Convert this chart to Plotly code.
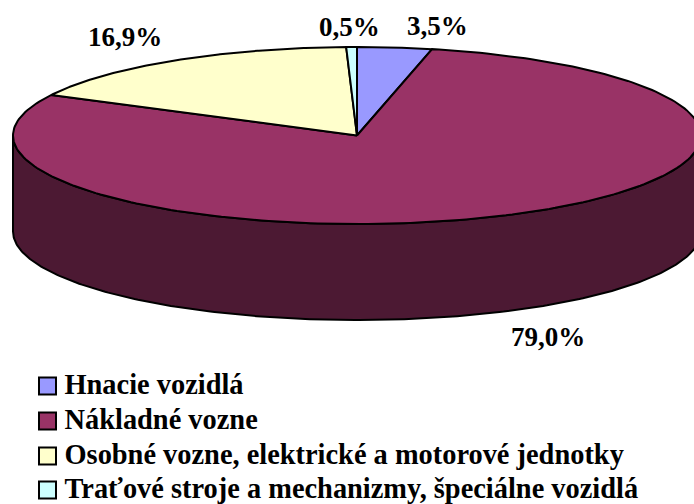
import numpy as np
import plotly.graph_objects as go

categories = ["Hnacie vozidlá", "Nákladné vozne",
              "Osobné vozne, elektrické a motorové jednotky",
              "Traťové stroje a mechanizmy, špeciálne vozidlá"]
shares = [3.5, 79.0, 16.9, 0.5]
share_labels = ["3,5%", "79,0%", "16,9%", "0,5%"]
colors = ["#9999FF", "#993366", "#FFFFCC", "#CCFFFF"]
wall_color = "#4C1933"
label_xy = [(437.5, 26), (547.5, 337), (125, 37), (349, 27)]
legend_rows = [386, 421, 456, 490]

W, H = 694, 504
CX, CY, RX, RY, DEPTH = 357, 135.5, 344, 88.5, 96
LEG_X = 47.5
LEG_TEXT_X = 64.5
FONT = "Liberation Serif"
INK = "#000000"


def rim(a0, a1, drop=0.0, n=240):
    """Ellipse rim points; angle in radians, clockwise from 12 o'clock."""
    t = np.linspace(a0, a1, n)
    return CX + RX * np.sin(t), CY - RY * np.cos(t) + drop


fig = go.Figure()

# Side wall: the front half of the pie, top rim then the lower rim reversed
xt, yt = rim(np.pi / 2, 3 * np.pi / 2)
xb, yb = rim(3 * np.pi / 2, np.pi / 2, DEPTH)
fig.add_trace(go.Scatter(
    x=np.r_[xt, xb, xt[0]], y=np.r_[yt, yb, yt[0]], mode="lines", fill="toself",
    fillcolor=wall_color, line=dict(color=INK, width=2), showlegend=False, hoverinfo="skip"))

total = sum(shares)
edges = np.r_[0, np.cumsum(shares)] / total * 2 * np.pi
for cat, col, a0, a1 in zip(categories, colors, edges[:-1], edges[1:]):
    xs, ys = rim(a0, a1)
    fig.add_trace(go.Scatter(
        x=np.r_[CX, xs, CX], y=np.r_[CY, ys, CY], mode="lines", fill="toself",
        fillcolor=col, line=dict(color=INK, width=2), showlegend=False, name=cat))

# Legend, drawn as a key of swatches with their labels
for cat, col, row in zip(categories, colors, legend_rows):
    fig.add_trace(go.Scatter(
        x=[LEG_X], y=[row], mode="markers", name=cat, showlegend=False,
        marker=dict(symbol="square", size=17, color=col, line=dict(color=INK, width=2))))
    fig.add_trace(go.Scatter(
        x=[LEG_TEXT_X], y=[row + 1], mode="text", name=cat, showlegend=False,
        text=[f"<b>{cat}</b>"], textposition="middle right",
        textfont=dict(family=FONT, size=28.4, color=INK)))

for txt, (lx, ly) in zip(share_labels, label_xy):
    fig.add_annotation(x=lx, y=ly, text=f"<b>{txt}</b>", showarrow=False,
                       font=dict(family=FONT, size=27, color=INK))

fig.update_layout(
    width=W, height=H, margin=dict(l=0, r=0, t=0, b=0),
    autosize=False,
    paper_bgcolor="white", plot_bgcolor="white",
    xaxis=dict(range=[0, W], visible=False, fixedrange=True),
    yaxis=dict(range=[H, 0], visible=False, fixedrange=True),
    font=dict(family=FONT, size=28, color=INK),
    showlegend=False,
)

fig.write_html("out.html", config={"displayModeBar": False},
               post_script="document.body.style.margin='0';document.documentElement.style.overflow='hidden';")
